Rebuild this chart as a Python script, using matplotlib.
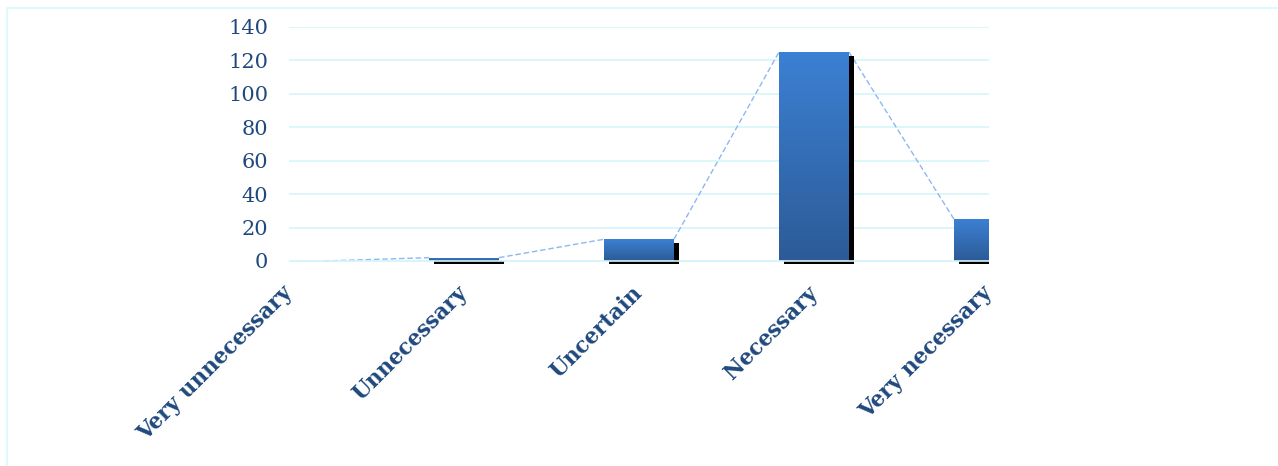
import numpy as np
import matplotlib
matplotlib.use("Agg")
import matplotlib.pyplot as plt
from matplotlib.patches import Rectangle
from matplotlib import transforms
from matplotlib.colors import LinearSegmentedColormap

categories = ["Very unnecessary", "Unnecessary", "Uncertain", "Necessary", "Very necessary"]
values = [0, 2, 13, 125, 25]
yticks = [0, 20, 40, 60, 80, 100, 120, 140]

W, H = 1278, 466
fig = plt.figure(figsize=(W / 100, H / 100), dpi=100)
ax = fig.add_axes([289 / W, (H - 263.5) / H, 700 / W, (263.5 - 27) / H])

label_color = "#1F497D"
grid_color = "#D6F6F9"
bar_w = 0.4
x = np.arange(len(categories))
XMIN, XMAX = 0, 4

ax.set_xlim(XMIN, XMAX)
ax.set_ylim(-1.5, 140)

# gridlines
for t in yticks:
    ax.axhline(t, color=grid_color, lw=1.2, zorder=0.5)

# dashed connector lines between bar top corners
lx, ly = [], []
for i in range(len(values) - 1):
    lx += [x[i] + bar_w / 2, x[i + 1] - bar_w / 2, np.nan]
    ly += [values[i], values[i + 1], np.nan]
ax.plot(lx, ly, color="#8DB8F2", lw=1.0, ls=(0, (4, 2)), zorder=1)

cmap = LinearSegmentedColormap.from_list("g", ["#2C5B97", "#3C80D3"])
grad = np.linspace(0, 1, 256).reshape(-1, 1)
shadow_tr = transforms.offset_copy(ax.transData, fig=fig, x=5, y=-3.5, units="dots")
for xi, v in zip(x, values):
    if v <= 0:
        continue
    sh = Rectangle((xi - bar_w / 2, 0), bar_w, v, transform=shadow_tr,
                   facecolor="black", edgecolor="none", zorder=1.5)
    ax.add_patch(sh)
    x0 = max(xi - bar_w / 2, XMIN)
    x1 = min(xi + bar_w / 2, XMAX)
    rect = Rectangle((x0, 0), x1 - x0, v, facecolor="none",
                     edgecolor="none", zorder=2)
    ax.add_patch(rect)
    im = ax.imshow(grad, cmap=cmap, aspect="auto", origin="lower",
                   extent=(xi - bar_w / 2, xi + bar_w / 2, 0, v), zorder=2,
                   interpolation="bilinear")
    im.set_clip_path(rect)

ax.axhline(0, color=grid_color, lw=1.2, zorder=2.5)

ax.set_xlim(XMIN, XMAX)
ax.set_ylim(-1.5, 140)
ax.set_yticks(yticks)
ax.set_yticklabels([str(t) for t in yticks], fontsize=15, color=label_color,
                   family="DejaVu Serif")
ax.set_xticks(x)
ax.set_xticklabels(categories, rotation=45, ha="right", va="center",
                   rotation_mode="anchor", fontsize=15.5, fontweight="bold",
                   color=label_color, family="DejaVu Serif")
ax.tick_params(axis="y", length=0, pad=15)
ax.tick_params(axis="x", length=0, pad=19)
for s in ax.spines.values():
    s.set_visible(False)
ax.patch.set_alpha(0)

# faint chart-area border
fig.add_artist(Rectangle((7 / W, -0.1), 1.2, (H - 8) / H + 0.1, transform=fig.transFigure,
                         facecolor="none", edgecolor="#DDFBFB", lw=1.5))

fig.savefig("out.png", dpi=100)
